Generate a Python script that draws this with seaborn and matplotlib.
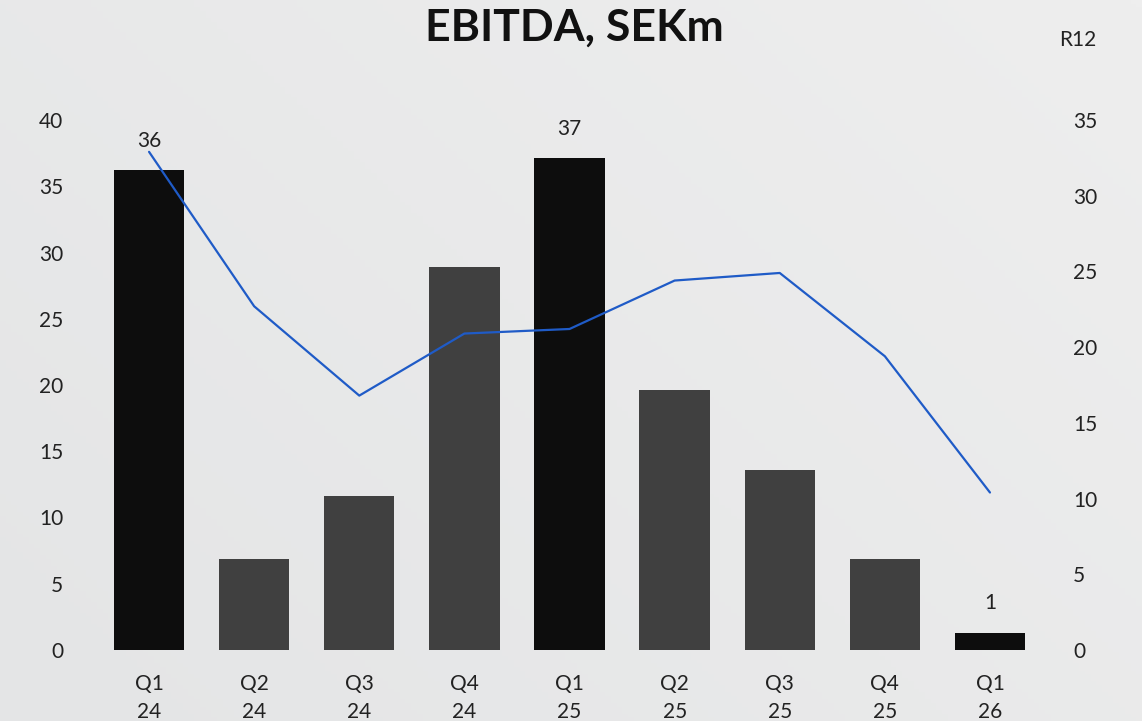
import matplotlib
matplotlib.use("Agg")
import matplotlib.pyplot as plt
import seaborn as sns
import numpy as np
import pandas as pd

# data
quarters = ["Q1\n24", "Q2\n24", "Q3\n24", "Q4\n24", "Q1\n25",
            "Q2\n25", "Q3\n25", "Q4\n25", "Q1\n26"]
ebitda = [36.2, 6.9, 11.6, 28.9, 37.1, 19.6, 13.6, 6.9, 1.3]
r12 = [32.9, 22.7, 16.8, 20.9, 21.2, 24.4, 24.9, 19.4, 10.4]
bar_labels = ["36", "", "", "", "37", "", "", "", "1"]
is_q1 = [q.startswith("Q1") for q in quarters]

df = pd.DataFrame({"quarter": quarters, "ebitda": ebitda, "r12": r12,
                   "kind": ["q1" if f else "other" for f in is_q1]})

sns.set_theme(style="white")
plt.rcParams["font.family"] = ["Lato", "DejaVu Sans"]

fig = plt.figure(figsize=(11.42, 7.21), dpi=100)
bg_color = "#e9eaeb"
fig.patch.set_facecolor(bg_color)

# subtle background gradient
bg = fig.add_axes([0, 0, 1, 1], zorder=-10)
gx, gy = np.meshgrid(np.linspace(0, 1, 200), np.linspace(0, 1, 200))
grad = 0.6 * gx + 0.4 * (1 - gy)
bg.imshow(grad, cmap=matplotlib.colors.LinearSegmentedColormap.from_list(
    "bg", ["#e4e5e6", "#eeeeee"]), aspect="auto", extent=[0, 1, 0, 1])
bg.axis("off")

ax = fig.add_axes([0.0845, 0.0985, 0.8284, 0.735])
ax.set_facecolor("none")
sns.barplot(data=df, x="quarter", y="ebitda", hue="kind",
            palette={"q1": "#0d0d0d", "other": "#404040"},
            width=0.67, dodge=False, legend=False, ax=ax, saturation=1,
            linewidth=0, edgecolor="none")

for cont in ax.containers:
    labs = [bar_labels[int(round(p.get_x() + p.get_width() / 2))]
            for p in cont.patches]
    ax.bar_label(cont, labels=labs, padding=14, fontsize=15, color="#222222")

ax.set_ylim(0, 40)
ax.set_xlim(-0.5, len(quarters) - 0.5)
ax.set_yticks(range(0, 41, 5))
ax.set_xlabel("")
ax.set_ylabel("")
ax.tick_params(axis="y", length=0, pad=24, labelsize=15, labelcolor="#222222")
ax.tick_params(axis="x", length=0, pad=17, labelsize=15, labelcolor="#222222")
for lab in ax.get_xticklabels():
    lab.set_linespacing(1.55)
sns.despine(ax=ax, left=True, bottom=True)

ax2 = ax.twinx()
sns.lineplot(x=np.arange(len(quarters)), y=r12, ax=ax2,
             color="#1f5bc7", linewidth=1.6)
ax2.set_ylim(0, 35)
ax2.set_yticks(range(0, 36, 5))
ax2.tick_params(axis="y", length=0, pad=22, labelsize=15, labelcolor="#222222")
for s in ax2.spines.values():
    s.set_visible(False)

fig.text(0.503, 0.962, "EBITDA, SEKm", ha="center", va="center",
         fontsize=32, fontweight="bold", color="#111111")
fig.text(0.944, 0.944, "R12", ha="center", va="center",
         fontsize=15, color="#222222")

fig.savefig("out.png", dpi=100, facecolor=fig.get_facecolor())
